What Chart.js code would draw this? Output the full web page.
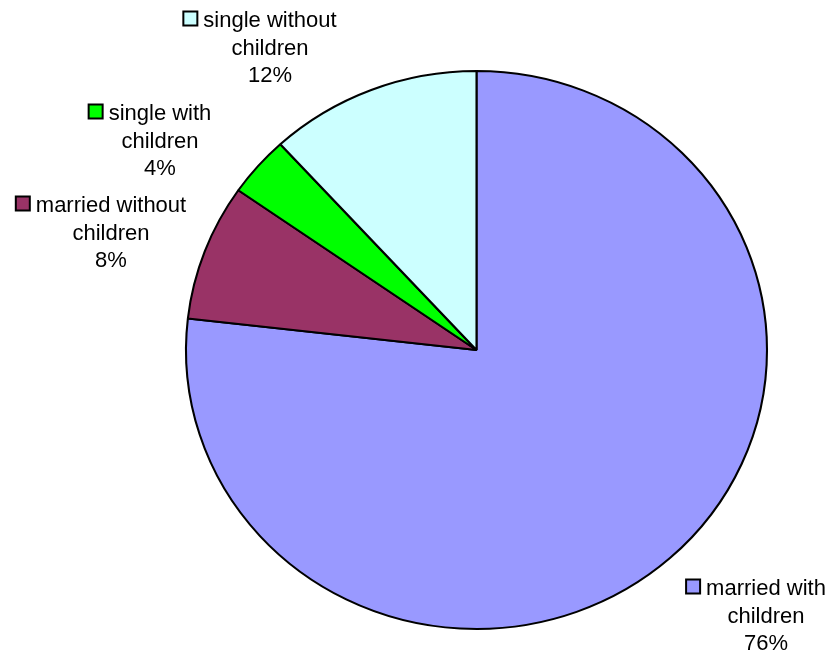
<!DOCTYPE html>
<html>
<head>
<meta charset="utf-8">
<script src="https://cdn.jsdelivr.net/npm/chart.js@4"></script>
<style>
  body { margin: 0; background: #fff; }
  canvas { display: block; }
</style>
</head>
<body>
<canvas id="pie" width="832" height="656"></canvas>
<script>
// Data
const categories = ["married with children", "married without children", "single with children", "single without children"];
const shares = [76.8, 7.9, 3.5, 11.8];
// percentages as printed in the data labels
const shareLabels = ["76%", "8%", "4%", "12%"];
const labelLines = [["married with", "children"], ["married without", "children"], ["single with", "children"], ["single without", "children"]];
const sliceColors = ["#9999FF", "#993366", "#00FF00", "#CCFFFF"];

// label anchors (text centre x, first baseline y)
const labelAnchors = [{ x: 766, y: 595 }, { x: 111, y: 212 }, { x: 160, y: 120 }, { x: 270, y: 27 }];
const lineGap = 27.5;

// the Excel pie is a bit wider than tall
const stretchX = 290.5 / 279;
const ellipse = {
    id: "ellipse",
    beforeDatasetsDraw(chart) {
        const arc = chart.getDatasetMeta(0).data[0];
        const ctx = chart.ctx;
        ctx.save();
        ctx.translate(arc.x, arc.y);
        ctx.scale(stretchX, 1);
        ctx.translate(-arc.x, -arc.y);
    },
    afterDatasetsDraw(chart) {
        chart.ctx.restore();
    }
};

const outsideLabels = {
    id: "outsideLabels",
    afterDraw(chart) {
        const ctx = chart.ctx;
        ctx.save();
        ctx.font = "22px 'Liberation Sans', Arial, sans-serif";
        ctx.fillStyle = "#000";
        ctx.textAlign = "center";
        ctx.textBaseline = "alphabetic";
        categories.forEach((cat, i) => {
            const a = labelAnchors[i];
            const lines = labelLines[i].concat([shareLabels[i]]);
            lines.forEach((t, j) => ctx.fillText(t, a.x, a.y + j * lineGap));
            // legend key in front of first line
            const w = ctx.measureText(lines[0]).width;
            const sx = a.x - w / 2 - 20;
            ctx.fillStyle = sliceColors[i];
            ctx.fillRect(sx, a.y - 15.5, 14, 14);
            ctx.strokeStyle = "#000";
            ctx.lineWidth = 2;
            ctx.strokeRect(sx, a.y - 15.5, 14, 14);
            ctx.fillStyle = "#000";
        });
        ctx.restore();
    }
};

new Chart(document.getElementById("pie"), {
    type: "pie",
    data: {
        labels: categories,
        datasets: [{
            data: shares,
            backgroundColor: sliceColors,
            borderColor: "#000",
            borderWidth: 2
        }]
    },
    options: {
        responsive: false,
        animation: false,
        radius: 279,
        layout: { padding: { left: 121, right: 0, top: 44, bottom: 0 } },
        plugins: {
            legend: { display: false },
            tooltip: { enabled: false }
        }
    },
    plugins: [ellipse, outsideLabels]
});
</script>
</body>
</html>
